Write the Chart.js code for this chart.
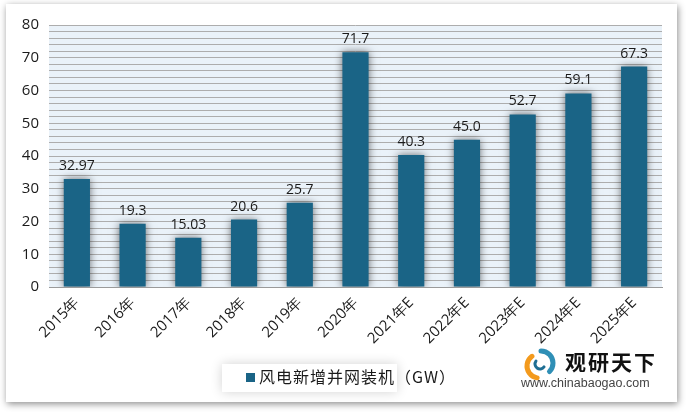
<!DOCTYPE html>
<html>
<head>
<meta charset="utf-8">
<script src="https://cdn.jsdelivr.net/npm/chart.js@4"></script>
<style>
    html, body { margin: 0; padding: 0; background: #fff; }
    #wrap { position: relative; width: 689px; height: 415px; overflow: hidden; }
    #card {
        position: absolute; left: 6px; top: 4px; width: 671px; height: 398px;
        background: #fff; box-shadow: 1px 2px 7px rgba(0,0,0,0.45);
    }
    #leadsBar { position: absolute; left: 0; top: 0; }
</style>
</head>
<body>
<div id="wrap">
    <div id="card"></div>
    <canvas id="leadsBar" width="689" height="415"></canvas>
</div>
<script>
const categories = ["2015年", "2016年", "2017年", "2018年", "2019年", "2020年", "2021年E", "2022年E", "2023年E", "2024年E", "2025年E"];
const capacity = [32.97, 19.3, 15.03, 20.6, 25.7, 71.7, 40.3, 45.0, 52.7, 59.1, 67.3];
const valueLabels = ["32.97", "19.3", "15.03", "20.6", "25.7", "71.7", "40.3", "45.0", "52.7", "59.1", "67.3"];
const seriesName = "风电新增并网装机（GW）";

const numFont = "'Open Sans', 'Noto Sans', sans-serif";
const cjkFont = "'Noto Sans CJK SC', sans-serif";

// plot background + shadowed bars + value labels + legend + logo
const decor = {
    id: "decor",
    beforeDraw(chart) {
        const { ctx, chartArea: a } = chart;
        ctx.save();
        ctx.fillStyle = "#eaf2f9";
        ctx.fillRect(a.left, a.top, a.right - a.left, a.bottom - a.top);
        ctx.restore();
    },
    beforeDatasetsDraw(chart) {
        const ctx = chart.ctx;
        ctx.save();
        ctx.shadowColor = "rgba(0,0,0,0.55)";
        ctx.shadowBlur = 8;
    },
    afterDatasetsDraw(chart) {
        const ctx = chart.ctx;
        ctx.restore();
        ctx.save();
        ctx.fillStyle = "#1a1a1a";
        ctx.font = "14px " + numFont;
        ctx.textAlign = "center";
        ctx.textBaseline = "bottom";
        chart.getDatasetMeta(0).data.forEach((bar, i) => {
            ctx.fillText(valueLabels[i], bar.x, bar.y - 6);
        });
        ctx.restore();
    },
    afterDraw(chart) {
        const ctx = chart.ctx;
        ctx.save();
        // legend panel with soft shadow
        ctx.shadowColor = "rgba(0,0,0,0.18)";
        ctx.shadowBlur = 12;
        ctx.fillStyle = "#fff";
        ctx.fillRect(222, 364, 175, 28);
        ctx.shadowColor = "transparent";
        ctx.shadowBlur = 0;
        ctx.fillStyle = "#1a6486";
        ctx.fillRect(246, 373, 9, 9);
        ctx.fillStyle = "#1a1a1a";
        ctx.font = "16px " + cjkFont;
        ctx.textBaseline = "middle";
        ctx.letterSpacing = "1px";
        ctx.fillText(seriesName, 259, 377);
        ctx.letterSpacing = "0px";

        // logo mark
        ctx.lineCap = "round";
        ctx.lineWidth = 5;
        ctx.strokeStyle = "#f39a1d";
        ctx.beginPath();
        ctx.arc(539, 366, 12, Math.PI * 0.55, Math.PI * 1.3);
        ctx.stroke();
        ctx.strokeStyle = "#2f8fb6";
        ctx.beginPath();
        ctx.arc(541, 363, 12, Math.PI * 1.5, Math.PI * 2.25);
        ctx.stroke();
        ctx.strokeStyle = "#1f6e93";
        ctx.lineWidth = 3;
        ctx.beginPath();
        ctx.arc(540, 364, 5, Math.PI * 0.2, Math.PI * 1.2);
        ctx.stroke();

        ctx.fillStyle = "#111";
        ctx.font = "bold 21px " + cjkFont;
        ctx.textBaseline = "middle";
        ctx.letterSpacing = "2px";
        ctx.fillText("观研天下", 565, 362);
        ctx.letterSpacing = "0px";
        ctx.fillStyle = "#444";
        ctx.font = "12.5px 'Liberation Sans', sans-serif";
        ctx.fillText("www.chinabaogao.com", 521, 384);
        ctx.restore();
    }
};

new Chart(document.getElementById("leadsBar"), {
    type: "bar",
    data: {
        labels: categories,
        datasets: [{
            label: seriesName,
            data: capacity,
            backgroundColor: "#1a6486",
            categoryPercentage: 1,
            barPercentage: 0.47
        }]
    },
    options: {
        responsive: false,
        animation: false,
        layout: { padding: { left: 0, right: 27, top: 25, bottom: 0 } },
        plugins: { legend: { display: false }, tooltip: { enabled: false } },
        scales: {
            x: {
                grid: { display: false, drawTicks: false },
                border: { color: "#9a9a9a" },
                ticks: {
                    color: "#1a1a1a",
                    font: { family: numFont, size: 15 },
                    minRotation: 45, maxRotation: 45,
                    padding: 7
                },
                afterFit(scale) { scale.height = 128; }
            },
            y: {
                min: 0, max: 80,
                grid: { color: "#adadad", drawTicks: false },
                border: { display: false },
                ticks: {
                    stepSize: 2,
                    autoSkip: false,
                    color: "#1a1a1a",
                    font: { family: numFont, size: 15 },
                    padding: 10,
                    callback: v => (v % 10 === 0 ? v : "")
                },
                afterFit(scale) { scale.width = 49; }
            }
        }
    },
    plugins: [decor]
});
</script>
</body>
</html>
